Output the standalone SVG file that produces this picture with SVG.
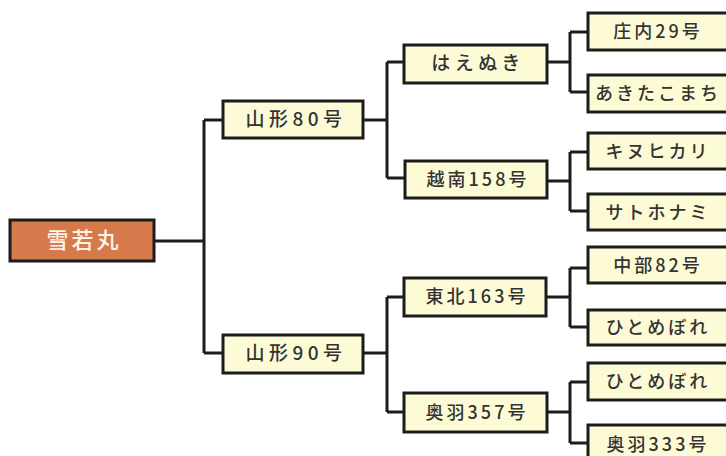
<svg xmlns="http://www.w3.org/2000/svg" width="726" height="456" viewBox="0 0 726 456">
<style>
.b{fill:#fdfbd6;stroke:#1c1c1c;stroke-width:3}
.r{fill:#d6794b;stroke:#1c1c1c;stroke-width:3}
.t{font-family:"Noto Sans CJK JP","Noto Sans",sans-serif;font-size:18px;font-weight:500;fill:#333333;text-anchor:middle;letter-spacing:3px}
.m{letter-spacing:4.5px;font-size:19px}
.w{font-family:"Noto Sans CJK JP","Noto Sans",sans-serif;font-size:22px;font-weight:500;fill:#fff3e8;text-anchor:middle;letter-spacing:3px}
.c{fill:none;stroke:#1c1c1c;stroke-width:3}
</style>
<rect width="726" height="456" fill="#ffffff"/>
<g id="connectors">
<path class="c" d="M154 241H204M204 120V353M204 120H223M204 353H223"/>
<path class="c" d="M363 120H387M387 62V178M387 62H404M387 178H405"/>
<path class="c" d="M363 353H387M387 297V412M387 297H404M387 412H404"/>
<path class="c" d="M547 62H570M570 32V92M570 32H588M570 92H588"/>
<path class="c" d="M547 181H570M570 152V211M570 152H588M570 211H588"/>
<path class="c" d="M546 297H570M570 268V327M570 268H588M570 327H588"/>
<path class="c" d="M547 412H570M570 382V443M570 382H588M570 443H588"/>
</g>
<g id="n_root"><rect class="r" x="10" y="220" width="144" height="41"/><text class="w" x="84" y="248">雪若丸</text></g>
<g id="n_y80"><rect class="b" x="223" y="101" width="140" height="37"/><text class="t m" x="296" y="126">山形80号</text></g>
<g id="n_y90"><rect class="b" x="223" y="335" width="140" height="38"/><text class="t m" x="296" y="360">山形90号</text></g>
<g id="n_haenuki"><rect class="b" x="404" y="45" width="143" height="38"/><text class="t m" x="478" y="70">はえぬき</text></g>
<g id="n_etsunan"><rect class="b" x="405" y="161" width="142" height="37"/><text class="t" x="478" y="186">越南158号</text></g>
<g id="n_tohoku"><rect class="b" x="404" y="278" width="142" height="38"/><text class="t" x="477" y="303">東北163号</text></g>
<g id="n_ou357"><rect class="b" x="404" y="393" width="143" height="39"/><text class="t" x="477" y="419">奥羽357号</text></g>
<g id="n_shonai"><rect class="b" x="588" y="13" width="145" height="37"/><text class="t" x="658" y="38">庄内29号</text></g>
<g id="n_akita"><rect class="b" x="588" y="75" width="145" height="37"/><text class="t" x="658" y="100">あきたこまち</text></g>
<g id="n_kinu"><rect class="b" x="588" y="133" width="145" height="36"/><text class="t" x="658" y="158">キヌヒカリ</text></g>
<g id="n_sato"><rect class="b" x="588" y="194" width="145" height="36"/><text class="t" x="658" y="219">サトホナミ</text></g>
<g id="n_chubu"><rect class="b" x="588" y="247" width="145" height="36"/><text class="t" x="658" y="272">中部82号</text></g>
<g id="n_hito1"><rect class="b" x="588" y="310" width="145" height="35"/><text class="t" x="658" y="334">ひとめぼれ</text></g>
<g id="n_hito2"><rect class="b" x="588" y="363" width="145" height="37"/><text class="t" x="658" y="388">ひとめぼれ</text></g>
<g id="n_ou333"><rect class="b" x="588" y="425" width="145" height="40"/><text class="t" x="658" y="451">奥羽333号</text></g>
</svg>
